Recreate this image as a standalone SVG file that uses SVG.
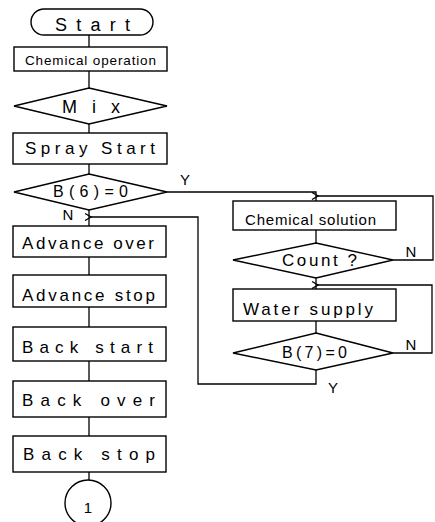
<svg xmlns="http://www.w3.org/2000/svg" width="435" height="522" viewBox="0 0 435 522">
<defs>
<style>
.s{fill:#fff;stroke:#000;stroke-width:1.4}
.c{fill:none;stroke:#000;stroke-width:1.3}
.t{font-family:"Liberation Sans",Arial,sans-serif;font-size:17px;fill:#000;text-anchor:start}
.l{font-family:"Liberation Sans",Arial,sans-serif;font-size:15px;fill:#000;text-anchor:middle}
</style>
<marker id="ah" markerWidth="10" markerHeight="10" refX="1" refY="4" orient="auto" markerUnits="userSpaceOnUse">
<path d="M7,0.5 L1,4 L7,7.5" fill="none" stroke="#000" stroke-width="1.3"/>
</marker>
</defs>
<rect width="435" height="522" fill="#fff"/>
<g id="connectors">
<path class="c" d="M89,35V47M89,71V88M89,124V133M89,164V174M89,210V226M89,257V275M89,307V327M89,361V381M89,417V436M89,472V480"/>
<path class="c" d="M167,192H316V201"/>
<path class="c" d="M316,230V243M316,278V289M316,321V333"/>
<path class="c" d="M393,260H433V196H318" marker-end="url(#ah)"/>
<path class="c" d="M393,353H432V285H318" marker-end="url(#ah)"/>
<path class="c" d="M316,370V384H198V217H91" marker-end="url(#ah)"/>
</g>
<g id="start"><rect class="s" x="31" y="9" width="122" height="26" rx="13"/><text class="t" x="55" y="31" textLength="75" lengthAdjust="spacing" style="font-size:18px">Start</text></g>
<g id="chemop"><rect class="s" x="14" y="47" width="153" height="24"/><text class="t" x="25" y="65" textLength="131" lengthAdjust="spacing" style="font-size:13.5px">Chemical operation</text></g>
<g id="mix"><polygon class="s" points="89,88 167,106 89,124 14,106"/><text class="t" x="62" y="113" textLength="58" lengthAdjust="spacing" style="font-size:18px">Mix</text></g>
<g id="spray"><rect class="s" x="13" y="133" width="154" height="31"/><text class="t" x="25" y="154" textLength="130" lengthAdjust="spacing">Spray Start</text></g>
<g id="b6"><polygon class="s" points="89,174 167,192 89,210 14,192"/><text class="t" x="53" y="197" textLength="75" lengthAdjust="spacing" style="font-size:16px">B(6)=0</text></g>
<g id="advover"><rect class="s" x="13" y="226" width="153" height="31"/><text class="t" x="22" y="249" textLength="132" lengthAdjust="spacing">Advance over</text></g>
<g id="advstop"><rect class="s" x="13" y="275" width="153" height="32"/><text class="t" x="22" y="301" textLength="133" lengthAdjust="spacing">Advance stop</text></g>
<g id="backstart"><rect class="s" x="13" y="327" width="153" height="34"/><text class="t" x="22" y="353" textLength="131" lengthAdjust="spacing">Back start</text></g>
<g id="backover"><rect class="s" x="13" y="381" width="153" height="36"/><text class="t" x="22" y="406" textLength="133" lengthAdjust="spacing">Back over</text></g>
<g id="backstop"><rect class="s" x="13" y="436" width="153" height="36"/><text class="t" x="23" y="460" textLength="132" lengthAdjust="spacing">Back stop</text></g>
<g id="conn1"><circle class="s" cx="88" cy="503" r="23"/><text class="l" x="88" y="513">1</text></g>
<g id="chemsol"><rect class="s" x="233" y="201" width="163" height="29"/><text class="t" x="245" y="225" textLength="131" lengthAdjust="spacing" style="font-size:15px">Chemical solution</text></g>
<g id="count"><polygon class="s" points="316,243 393,260 316,278 233,260"/><text class="t" x="282" y="266" textLength="75" lengthAdjust="spacing">Count ?</text></g>
<g id="water"><rect class="s" x="233" y="289" width="163" height="32"/><text class="t" x="243" y="315" textLength="130" lengthAdjust="spacing">Water supply</text></g>
<g id="b7"><polygon class="s" points="316,333 393,353 316,370 233,353"/><text class="t" x="282" y="358" textLength="65" lengthAdjust="spacing" style="font-size:16px">B(7)=0</text></g>
<g id="labels">
<text class="l" x="185" y="185">Y</text>
<text class="l" x="68" y="220">N</text>
<text class="l" x="411" y="257">N</text>
<text class="l" x="411" y="350">N</text>
<text class="l" x="333" y="393">Y</text>
</g>
</svg>
